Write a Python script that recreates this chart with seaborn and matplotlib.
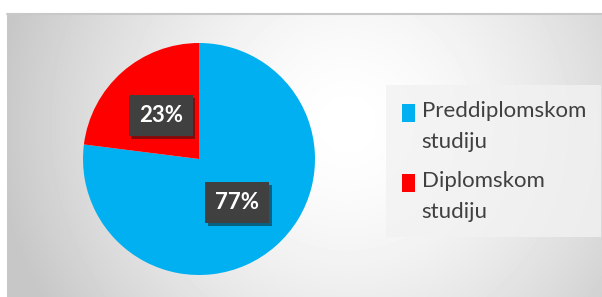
import numpy as np
import matplotlib
matplotlib.use("Agg")
import matplotlib.pyplot as plt
import matplotlib.patheffects as pe
from matplotlib.patches import Rectangle
from matplotlib.legend_handler import HandlerPatch
import seaborn as sns

categories = ["Preddiplomskom\nstudiju", "Diplomskom\nstudiju"]
values = [77, 23]
colors = ["#00B0F0", "#FF0000"]

sns.set_theme(style="white")
plt.rcParams['font.family'] = ['Lato', 'DejaVu Sans']

W, H = 602, 297
fig = plt.figure(figsize=(W / 100, H / 100), dpi=100)
fig.patch.set_facecolor("white")

# background gradient panel
bg = fig.add_axes([7 / W, 0, (W - 7) / W, (H - 14) / H])
yy, xx = np.mgrid[0:283, 0:595]
cx, cy = 340, 110
d = np.sqrt((xx - cx) ** 2 + (yy - cy) ** 2)
v = 1 - 0.20 * np.clip(d / 330, 0, 1.3) ** 1.6
v = np.clip(v, 0.78, 1)
bg.imshow(v, cmap="gray", vmin=0, vmax=1, aspect="auto", interpolation="bilinear")
bg.axis("off")
fig.add_artist(plt.Line2D([7 / W, 1], [(H - 14) / H, (H - 14) / H], color="#c8c8c8", lw=1.5))

# pie
r = 116
cxp, cyp = 199, H - 159
ax = fig.add_axes([(cxp - r) / W, (cyp - r) / H, 2 * r / W, 2 * r / H])
wedges, texts, autotexts = ax.pie(values, colors=colors, startangle=90, counterclock=False,
                                  autopct="%1.0f%%", pctdistance=0.5,
                                  wedgeprops=dict(linewidth=0))
ax.set_xlim(-1, 1)
ax.set_ylim(-1, 1)
ax.set_aspect("equal")
for t in autotexts:
    t.set_color("white")
    t.set_fontsize(16)
    t.set_fontweight("bold")
    t.set_bbox(dict(boxstyle="square,pad=0.45", facecolor="#404040", edgecolor="none"))
    t.get_bbox_patch().set_path_effects([pe.SimplePatchShadow(offset=(2, -2), alpha=0.5), pe.Normal()])


def top_square(legend, orig_handle, xdescent, ydescent, width, height, fontsize):
    return Rectangle((-xdescent, -ydescent + 0.6 * fontsize), width, height)


leg = fig.legend(wedges, categories, loc="upper left",
                 bbox_to_anchor=(386 / W, 1 - 85 / H), frameon=True, fontsize=16,
                 handlelength=0.6, handleheight=0.85, handletextpad=0.3,
                 labelspacing=0.85, borderpad=0.7, borderaxespad=0,
                 handler_map={type(wedges[0]): HandlerPatch(patch_func=top_square)})
leg.get_frame().set_facecolor("#f2f2f2")
leg.get_frame().set_edgecolor("none")
leg.get_frame().set_alpha(0.8)
leg.get_frame().set_boxstyle("square", pad=0)
for t in leg.get_texts():
    t.set_color("#404040")
    t.set_linespacing(1.7)

fig.savefig("out.png", dpi=100)
